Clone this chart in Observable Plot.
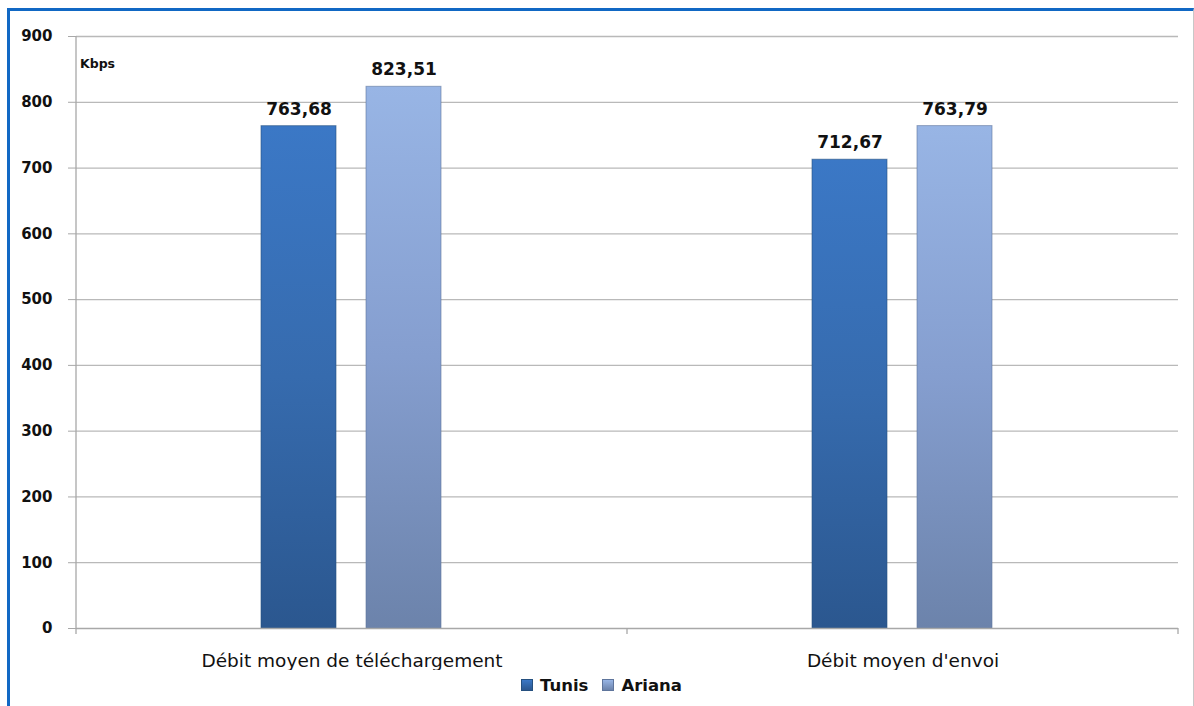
<!DOCTYPE html>
<html>
<head>
<meta charset="utf-8">
<script src="https://cdn.jsdelivr.net/npm/d3@7"></script>
<script src="https://cdn.jsdelivr.net/npm/@observablehq/plot@0.6"></script>
<style>
  html, body { margin: 0; padding: 0; background: #fff; }
  body { width: 1194px; height: 706px; overflow: hidden; position: relative; font-family: "DejaVu Sans", sans-serif; }
  #frame { position: absolute; left: 7px; top: 8px; width: 1183px; height: 700px;
           border-top: 3px solid #1168c4; border-left: 3px solid #1168c4; border-right: 1px solid #c8c8c8; }
  #legend { position: absolute; left: 0; width: 1183px; top: 665px; text-align: center;
            font-weight: bold; font-size: 16.5px; color: #111; line-height: 20px; }
  #legend span.item { display: inline-block; margin: 0 7px; }
  #legend span.sw { display: inline-block; width: 10px; height: 10px; margin-right: 7px; vertical-align: 0px; }
</style>
</head>
<body>
<svg width="0" height="0" style="position:absolute">
  <defs>
    <linearGradient id="gTunis" x1="0" y1="0" x2="0" y2="1">
      <stop offset="0" stop-color="#3b78c6"/>
      <stop offset="0.5" stop-color="#366bae"/>
      <stop offset="1" stop-color="#2b578f"/>
    </linearGradient>
    <linearGradient id="gAriana" x1="0" y1="0" x2="0" y2="1">
      <stop offset="0" stop-color="#98b5e5"/>
      <stop offset="0.5" stop-color="#859ecf"/>
      <stop offset="1" stop-color="#6c83ab"/>
    </linearGradient>
  </defs>
</svg>
<div id="frame">
  <div id="chart"></div>
  <div id="legend"></div>
</div>
<script>
const categories = ["Débit moyen de téléchargement", "Débit moyen d'envoi"];
const series = ["Tunis", "Ariana"];
const tunisValues = [763.68, 712.67];
const arianaValues = [823.51, 763.79];
const yTicks = [0, 100, 200, 300, 400, 500, 600, 700, 800, 900];
const unitLabel = "Kbps";

const seriesFills = ["url(#gTunis)", "url(#gAriana)"];
const seriesStrokes = ["#25507f", "#5f759c"];

const data = [];
categories.forEach((c, i) => {
  data.push({category: c, series: "Tunis", value: tunisValues[i]});
  data.push({category: c, series: "Ariana", value: arianaValues[i]});
});
const fmt = v => v.toFixed(2).replace(".", ",");

const W = 1183, H = 659;
const FONT = "'DejaVu Sans', sans-serif";
const plot = Plot.plot({
  width: W,
  height: H,
  marginLeft: 66,
  marginRight: 15,
  marginTop: 25,
  marginBottom: 42,
  style: {fontFamily: FONT, background: "transparent"},
  fx: {domain: categories, padding: 0, label: null, axis: null},
  x: {domain: series, paddingInner: 0.2857, paddingOuter: 1.766, axis: null},
  y: {domain: [0, 900], ticks: yTicks, label: null},
  color: {domain: series, range: seriesFills},
  marks: [
    Plot.gridY(yTicks.filter(d => d > 0), {stroke: "#b9b9b9", strokeOpacity: 1, strokeWidth: 1.3}),
    Plot.barY(data, {fx: "category", x: "series", y: "value", fill: "series",
      stroke: d => seriesStrokes[series.indexOf(d.series)], strokeWidth: 1, strokeOpacity: 0.6}),
    Plot.text(data, {fx: "category", x: "series", y: "value", text: d => fmt(d.value),
      dy: -17, fontSize: 17, fontWeight: "bold", fill: "#111"}),
    Plot.ruleY([0], {stroke: "#a8a8a8", strokeWidth: 1.3}),
    Plot.axisY({ticks: yTicks, tickSize: 8, tickPadding: 16, fontSize: 15, fontWeight: "bold",
      stroke: "#a8a8a8", fill: "#111", facetAnchor: "left", tickFormat: d => String(d)}),
    Plot.axisFx({anchor: "bottom", tickSize: 0, tickPadding: 25, fontSize: 18.5, fontWeight: "normal",
      fill: "#111", label: null})
  ]
});
document.getElementById("chart").appendChild(plot);

// decorative axis lines from the plot's own y scale
const svg = d3.select(plot);
const ys = plot.scale("y");
const left = 66, right = W - 15;
const y0 = ys.apply(0), yTop = ys.apply(900);
svg.append("line").attr("x1", left).attr("x2", left).attr("y1", yTop).attr("y2", y0 + 6)
  .attr("stroke", "#a8a8a8").attr("stroke-width", 1.3);
const n = categories.length;
for (let i = 1; i <= n; i++) {
  const x = left + i * (right - left) / n;
  svg.append("line").attr("x1", x).attr("x2", x).attr("y1", y0).attr("y2", y0 + 6)
    .attr("stroke", "#a8a8a8").attr("stroke-width", 1.3);
}
svg.append("text").attr("x", left + 4).attr("y", ys.apply(852))
  .attr("text-anchor", "start")
  .attr("font-size", 12.5).attr("font-weight", "bold").attr("fill", "#111")
  .attr("font-family", FONT).text(unitLabel);

const legend = document.getElementById("legend");
series.forEach((s, i) => {
  const item = document.createElement("span");
  item.className = "item";
  item.innerHTML = `<span class="sw" style="background:${i === 0 ? "linear-gradient(#3b78c6,#2b578f)" : "linear-gradient(#98b5e5,#6c83ab)"};border:1px solid ${seriesStrokes[i]}"></span>${s}`;
  legend.appendChild(item);
});
</script>
</body>
</html>
